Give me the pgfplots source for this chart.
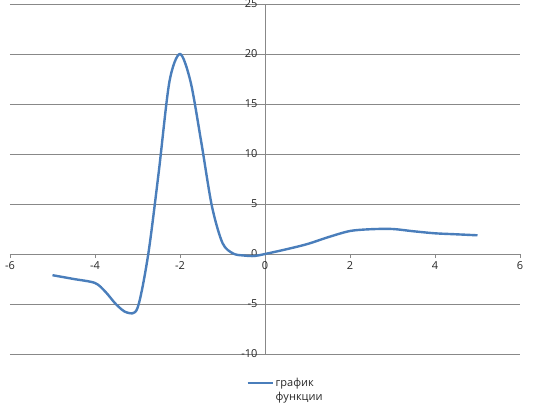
\documentclass[border=0pt]{standalone}
\usepackage{pgfplots}
\pgfplotsset{compat=1.18}
\usepackage{fontspec}
\setmainfont{Open Sans}
\definecolor{series}{HTML}{4A7EBB}
\definecolor{gridc}{HTML}{888888}

\begin{document}
\begin{tikzpicture}
\path[use as bounding box] (0,0) rectangle (540bp,404bp);
\begin{axis}[
  at={(10bp,50bp)}, anchor=south west,
  scale only axis, width=510bp, height=350bp,
  xmin=-6, xmax=6, ymin=-10, ymax=25,
  axis x line=middle, axis y line=middle,
  axis line style={-, draw=gridc, line width=0.8pt},
  xtick={-6,-4,...,6}, ytick={-10,-5,...,25},
  hide obscured x ticks=false, hide obscured y ticks=false,
  ymajorgrids, grid style={draw=gridc, line width=0.8pt},
  tick style={draw=gridc, line width=0.8pt},
  tick align=outside, major tick length=4bp,
  ytick style={draw=none},
  tick label style={font=\fontsize{11bp}{13bp}\selectfont, text=black!85},
  /pgf/number format/assume math mode=true,
  legend style={at={(0.463,-0.063)}, anchor=north west, draw=none, fill=none,
    font=\fontsize{11bp}{14bp}\selectfont, cells={align=left}, inner sep=0pt,
    text=black!85},
  legend image code/.code={\draw[#1] (0bp,7bp) -- (25bp,7bp);},
]
\addplot[series, line width=2.4bp, smooth, tension=0.5] coordinates {
  (-5.0,-2.12) (-4.5,-2.5) (-4.0,-2.9) (-3.75,-3.8) (-3.5,-5.05)
  (-3.25,-5.85) (-3.0,-5.4) (-2.75,-0.1) (-2.5,8.2) (-2.25,17.2)
  (-2.0,20.0) (-1.75,17.2) (-1.5,11.2) (-1.25,4.8) (-1.0,1.1)
  (-0.75,0.05) (-0.5,-0.15) (-0.25,-0.2) (0,0) (0.5,0.47)
  (1.0,1.0) (1.5,1.7) (2.0,2.3) (2.5,2.48) (3.0,2.5) (3.5,2.27)
  (4.0,2.07) (4.5,1.97) (5.0,1.87)
};
\addlegendentry{график\\функции}
\end{axis}
\end{tikzpicture}
\end{document}
